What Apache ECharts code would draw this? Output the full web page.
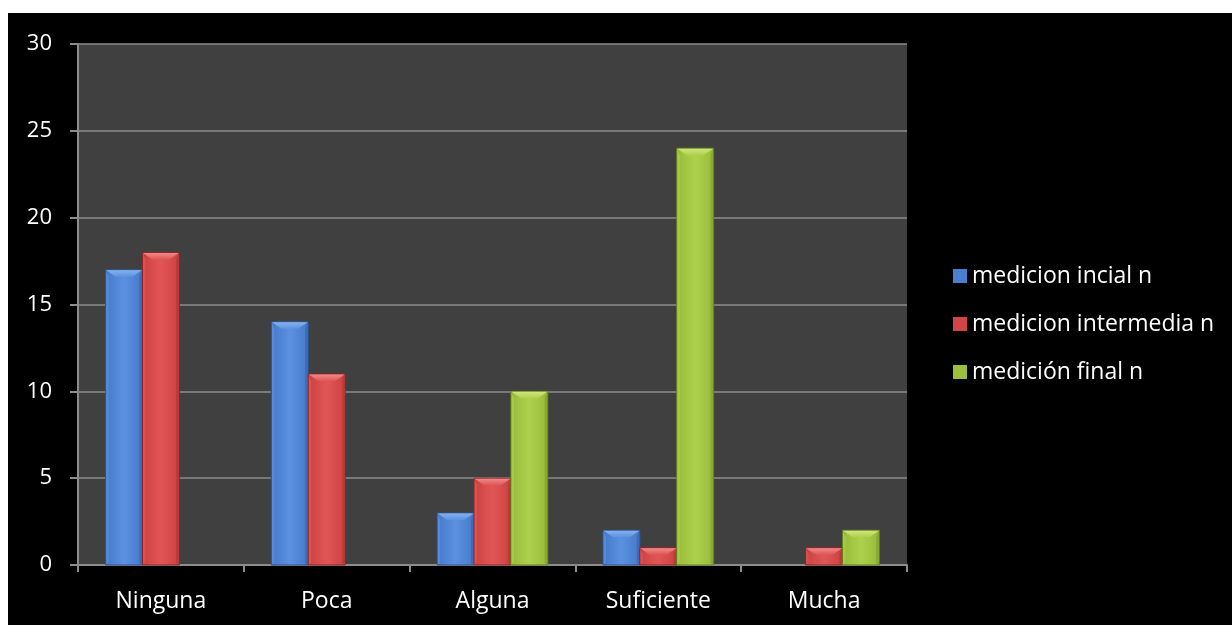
<!DOCTYPE html>
<html>
<head>
<meta charset="utf-8">
<script src="https://cdn.jsdelivr.net/npm/echarts@6/dist/echarts.min.js"></script>
<style>
  html, body { margin: 0; padding: 0; background: #ffffff; width: 1232px; height: 625px; overflow: hidden; }
  #chart { position: absolute; left: 8px; top: 13px; width: 1224px; height: 612px; background: #000000; }
</style>
</head>
<body>
<div id="chart"></div>
<script>
// Categories and measured counts per level
const categories = ['Ninguna', 'Poca', 'Alguna', 'Suficiente', 'Mucha'];
const seriesNames = ['medicion incial n', 'medicion intermedia n', 'medición final n'];
const medicionInicial = [17, 14, 3, 2, 0];
const medicionIntermedia = [18, 11, 5, 1, 1];
const medicionFinal = [0, 0, 10, 24, 2];
const yTicks = [0, 5, 10, 15, 20, 25, 30];

// Bevelled bar palette
const palettes = [
  { base: '#4a7fd0', light: '#5b91e0', dark: '#3a6ab8', top: '#86b2ee', edge: '#2c558f' },
  { base: '#d24545', light: '#e05656', dark: '#b83838', top: '#ee8a8a', edge: '#8e2525' },
  { base: '#9cc03e', light: '#aed04c', dark: '#86a830', top: '#cfe67e', edge: '#62801e' }
];

const GROUP_FRACTION = 0.667; // share of the category band covered by the three bars

function makeRender(idx) {
  const p = palettes[idx];
  return function (params, api) {
    const catIdx = api.value(0);
    const val = api.value(1);
    if (!val) return null;
    const band = api.size([1, 0])[0];
    const barW = band * GROUP_FRACTION / 3;
    const base = api.coord([catIdx, 0]);
    const top = api.coord([catIdx, val]);
    const x0 = base[0] + (idx - 1.5) * barW;
    const x1 = x0 + barW;
    const y0 = top[1];
    const y1 = base[1];
    const h = y1 - y0;
    const bev = Math.min(7, h / 2);
    const inset = Math.min(10, barW / 3);
    const side = 3;
    const children = [
      { // body with a soft horizontal shading
        type: 'rect',
        shape: { x: x0, y: y0, width: barW, height: h },
        style: {
          fill: new echarts.graphic.LinearGradient(0, 0, 1, 0, [
            { offset: 0, color: p.dark },
            { offset: 0.12, color: p.base },
            { offset: 0.5, color: p.light },
            { offset: 0.88, color: p.base },
            { offset: 1, color: p.dark }
          ]),
          stroke: p.edge, lineWidth: 1
        }
      },
      { // left edge highlight
        type: 'polygon',
        shape: { points: [[x0 + 0.5, y0 + 0.5], [x0 + side, y0 + bev], [x0 + side, y1 - 2], [x0 + 0.5, y1 - 0.5]] },
        style: { fill: p.light, opacity: 0.8 }
      },
      { // right edge shade
        type: 'polygon',
        shape: { points: [[x1 - 0.5, y0 + 0.5], [x1 - side, y0 + bev], [x1 - side, y1 - 2], [x1 - 0.5, y1 - 0.5]] },
        style: { fill: p.dark, opacity: 0.9 }
      },
      { // top bevel face
        type: 'polygon',
        shape: { points: [[x0 + 0.5, y0 + 0.5], [x1 - 0.5, y0 + 0.5], [x1 - inset, y0 + bev], [x0 + inset, y0 + bev]] },
        style: {
          fill: new echarts.graphic.LinearGradient(0, 0, 0, 1, [
            { offset: 0, color: p.top },
            { offset: 1, color: p.light }
          ])
        }
      }
    ];
    return { type: 'group', children: children };
  };
}

const seriesData = [medicionInicial, medicionIntermedia, medicionFinal];

const chart = echarts.init(document.getElementById('chart'), null, { renderer: 'canvas' });
chart.setOption({
  backgroundColor: '#000000',
  animation: false,
  textStyle: { fontFamily: 'Open Sans', color: '#ffffff' },
  grid: {
    left: 70, top: 31, right: 325, bottom: 60,
    show: true, backgroundColor: '#404040', borderWidth: 0
  },
  legend: {
    orient: 'vertical',
    left: 940, top: 246,
    itemWidth: 14, itemHeight: 14, itemGap: 24,
    icon: 'rect',
    textStyle: { color: '#ffffff', fontSize: 23, lineHeight: 24, fontFamily: 'Open Sans', padding: [0, 0, 0, 0] },
    data: seriesNames
  },
  xAxis: {
    type: 'category',
    data: categories,
    axisLine: { show: true, lineStyle: { color: '#8c8c8c', width: 2 } },
    axisTick: { show: true, length: 7, lineStyle: { color: '#8c8c8c', width: 2 } },
    axisLabel: { color: '#ffffff', fontSize: 23, margin: 25, fontFamily: 'Open Sans' }
  },
  yAxis: {
    type: 'value',
    min: yTicks[0], max: yTicks[yTicks.length - 1], interval: yTicks[1] - yTicks[0],
    axisLine: { show: true, lineStyle: { color: '#8c8c8c', width: 2 } },
    axisTick: { show: true, length: 8, lineStyle: { color: '#8c8c8c', width: 2 } },
    axisLabel: { color: '#ffffff', fontSize: 22, margin: 26, fontFamily: 'Open Sans' },
    splitLine: { show: true, lineStyle: { color: '#8c8c8c', width: 1.5 } }
  },
  series: seriesData.map(function (arr, i) {
    return {
      type: 'custom',
      name: seriesNames[i],
      itemStyle: { color: palettes[i].base },
      renderItem: makeRender(i),
      encode: { x: 0, y: 1 },
      data: arr.map(function (v, j) { return [j, v]; })
    };
  })
});
</script>
</body>
</html>
